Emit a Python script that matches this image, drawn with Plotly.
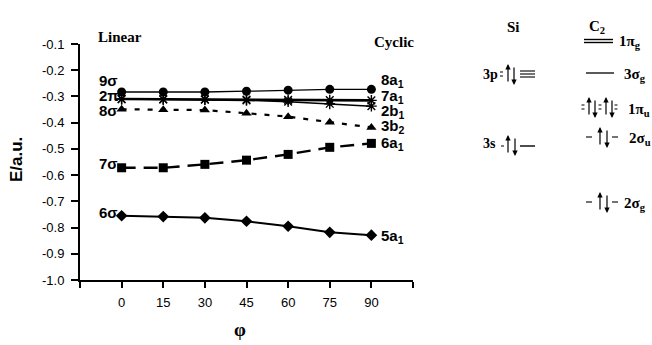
import plotly.graph_objects as go

# ---------------- data ----------------
phi = [0, 15, 30, 45, 60, 75, 90]
e_8a1 = [-0.283, -0.283, -0.283, -0.280, -0.276, -0.273, -0.273]   # 9σ -> 8a1
e_7a1 = [-0.310, -0.311, -0.311, -0.312, -0.313, -0.314, -0.315]   # 2π -> 7a1
e_2b1 = [-0.310, -0.311, -0.312, -0.315, -0.320, -0.328, -0.337]   # 2π -> 2b1
e_3b2 = [-0.349, -0.351, -0.352, -0.364, -0.377, -0.398, -0.418]   # 8σ -> 3b2
e_6a1 = [-0.572, -0.572, -0.559, -0.543, -0.521, -0.494, -0.479]   # 7σ -> 6a1
e_5a1 = [-0.755, -0.758, -0.763, -0.776, -0.795, -0.818, -0.829]   # 6σ -> 5a1

x_tickvals = [-15, 0, 15, 30, 45, 60, 75, 90, 105]
x_ticktext = ["", "0", "15", "30", "45", "60", "75", "90", ""]
y_tickvals = [-0.1, -0.2, -0.3, -0.4, -0.5, -0.6, -0.7, -0.8, -0.9, -1.0]
y_ticktext = ["-0.1", "-0.2", "-0.3", "-0.4", "-0.5", "-0.6", "-0.7", "-0.8", "-0.9", "-1.0"]

left_labels = ["9σ", "2π", "8σ", "7σ", "6σ"]
right_labels = ["8a<sub>1</sub>", "7a<sub>1</sub>", "2b<sub>1</sub>", "3b<sub>2</sub>", "6a<sub>1</sub>", "5a<sub>1</sub>"]

# ---------------- figure ----------------
W, H = 652, 345
L, R, T, B = 80, 239, 44, 65
PW, PH = W - L - R, H - T - B


def px(xp):
    return (xp - L) / PW


def py(yp):
    return (H - B - yp) / PH


fig = go.Figure()
SANS = "Liberation Sans, Arial, sans-serif"
SERIF = "Liberation Serif, Times New Roman, serif"

fig.add_trace(go.Scatter(x=phi, y=e_8a1, mode="lines+markers",
                         line=dict(color="black", width=1.3),
                         marker=dict(symbol="circle", size=9, color="black")))
fig.add_trace(go.Scatter(x=phi, y=e_2b1, mode="lines+markers",
                         line=dict(color="black", width=1.5),
                         marker=dict(symbol="asterisk-open", size=9, color="black",
                                     line=dict(width=1.4, color="black"))))
fig.add_trace(go.Scatter(x=phi, y=e_7a1, mode="lines+markers",
                         line=dict(color="black", width=2.6),
                         marker=dict(symbol="asterisk-open", size=9, color="black",
                                     line=dict(width=1.4, color="black"))))
fig.add_trace(go.Scatter(x=phi, y=e_3b2, mode="lines+markers",
                         line=dict(color="black", width=2.2, dash="5px,8px"),
                         marker=dict(symbol="triangle-up", size=9, color="black")))
fig.add_trace(go.Scatter(x=phi, y=e_6a1, mode="lines+markers",
                         line=dict(color="black", width=2.4, dash="14px,8px"),
                         marker=dict(symbol="square", size=9, color="black")))
fig.add_trace(go.Scatter(x=phi, y=e_5a1, mode="lines+markers",
                         line=dict(color="black", width=2),
                         marker=dict(symbol="diamond", size=9, color="black")))

ann = []

# curve labels, left (linear) side
left_y = [80, 95, 110, 163, 212]
for t, yy in zip(left_labels, left_y):
    ann.append(dict(x=px(97), y=py(yy), xref="paper", yref="paper", text="<b>" + t + "</b>",
                    showarrow=False, xanchor="left", yanchor="middle",
                    font=dict(family=SANS, size=15, color="black")))

# curve labels, right (cyclic) side
right_y = [80, 96, 111, 127, 143, 236]
for t, yy in zip(right_labels, right_y):
    ann.append(dict(x=px(379), y=py(yy), xref="paper", yref="paper", text="<b>" + t + "</b>",
                    showarrow=False, xanchor="left", yanchor="middle",
                    font=dict(family=SANS, size=15, color="black")))

# headings
def serif_text(x, y, text, size=15, anchor="center"):
    ann.append(dict(x=px(x), y=py(y), xref="paper", yref="paper", text="<b>" + text + "</b>",
                    showarrow=False, xanchor=anchor, yanchor="middle",
                    font=dict(family=SERIF, size=size, color="black")))

serif_text(120, 37, "Linear")
serif_text(394, 42, "Cyclic")
serif_text(513, 27, "Si")
serif_text(597, 27, "C<sub>2</sub>")
serif_text(481, 74, "3p", 14, "left")
serif_text(481, 143, "3s", 14, "left")
serif_text(617, 42, "1π<sub>g</sub>", 15, "left")
serif_text(622, 75, "3σ<sub>g</sub>", 15, "left")
serif_text(626, 110, "1π<sub>u</sub>", 15, "left")
serif_text(627, 139, "2σ<sub>u</sub>", 15, "left")
serif_text(622, 204, "2σ<sub>g</sub>", 15, "left")

# axis titles
ann.append(dict(x=px(16), y=py(160), xref="paper", yref="paper", text="<b>E/a.u.</b>",
                showarrow=False, textangle=-90, xanchor="center", yanchor="middle",
                font=dict(family=SANS, size=17, color="black")))
ann.append(dict(x=px(240), y=py(329), xref="paper", yref="paper", text="<b>φ</b>",
                showarrow=False, xanchor="center", yanchor="middle",
                font=dict(family=SERIF, size=19, color="black")))

# electron spin arrows
def spin(x, ylevel, up=True):
    if up:
        ann.append(dict(x=px(x), y=py(ylevel - 10), xref="paper", yref="paper", text="",
                        showarrow=True, ax=0, ay=19, arrowhead=2, arrowsize=0.9,
                        arrowwidth=1.2, arrowcolor="black"))
    else:
        ann.append(dict(x=px(x), y=py(ylevel + 11), xref="paper", yref="paper", text="",
                        showarrow=True, ax=0, ay=-19, arrowhead=2, arrowsize=0.9,
                        arrowwidth=1.2, arrowcolor="black"))

spin(508, 74, True); spin(514, 74, False)
spin(508, 145, True); spin(515, 145, False)
spin(589, 107, True); spin(595, 107, False)
spin(606, 107, True); spin(612, 107, False)
spin(600, 137, True); spin(607, 137, False)
spin(600, 202, True); spin(607, 202, False)

shapes = []

def hline(x0, x1, y, w=1.3):
    shapes.append(dict(type="line", xref="paper", yref="paper",
                       x0=px(x0), x1=px(x1), y0=py(y), y1=py(y),
                       line=dict(color="black", width=w)))

# C2 levels
hline(584, 613, 39.5, 1.4); hline(584, 613, 42.5, 1.4)      # 1πg
hline(586, 614, 73, 1.3)                                     # 3σg
hline(586, 592, 137, 1.1); hline(612, 618, 137, 1.1)         # 2σu
hline(586, 592, 202, 1.1); hline(612, 618, 202, 1.1)         # 2σg
for xx in (583, 600, 616):                                   # 1πu small dashes
    hline(xx - 1.5, xx + 1.5, 105, 1); hline(xx - 1.5, xx + 1.5, 109, 1)
# Si levels
hline(520, 535, 71, 1.1); hline(520, 535, 74, 1.1); hline(520, 535, 77, 1.1)   # 3p ≡
hline(500, 503, 72, 1); hline(500, 503, 76, 1)
hline(501, 504, 146, 1)
hline(520, 535, 146, 1.4)                                    # 3s

fig.update_layout(
    width=W, height=H,
    margin=dict(l=L, r=R, t=T, b=B, pad=0),
    paper_bgcolor="white", plot_bgcolor="white",
    showlegend=False,
    annotations=ann, shapes=shapes,
    xaxis=dict(range=[-15, 105], tickvals=x_tickvals, ticktext=x_ticktext,
               showgrid=False, zeroline=False, showline=True, linecolor="black", linewidth=2,
               ticks="outside", ticklen=6, tickwidth=2, tickcolor="black",
               ticklabelstandoff=3,
               tickfont=dict(family=SANS, size=13, color="black")),
    yaxis=dict(range=[-1.0, -0.1], tickvals=y_tickvals, ticktext=y_ticktext,
               showgrid=False, zeroline=False, showline=True, linecolor="black", linewidth=2,
               ticks="outside", ticklen=7, tickwidth=2, tickcolor="black",
               ticklabelstandoff=4,
               tickfont=dict(family=SANS, size=13, color="black")),
)

fig.write_html("out.html", config={"displayModeBar": False},
               post_script="document.body.style.margin='0px';")
